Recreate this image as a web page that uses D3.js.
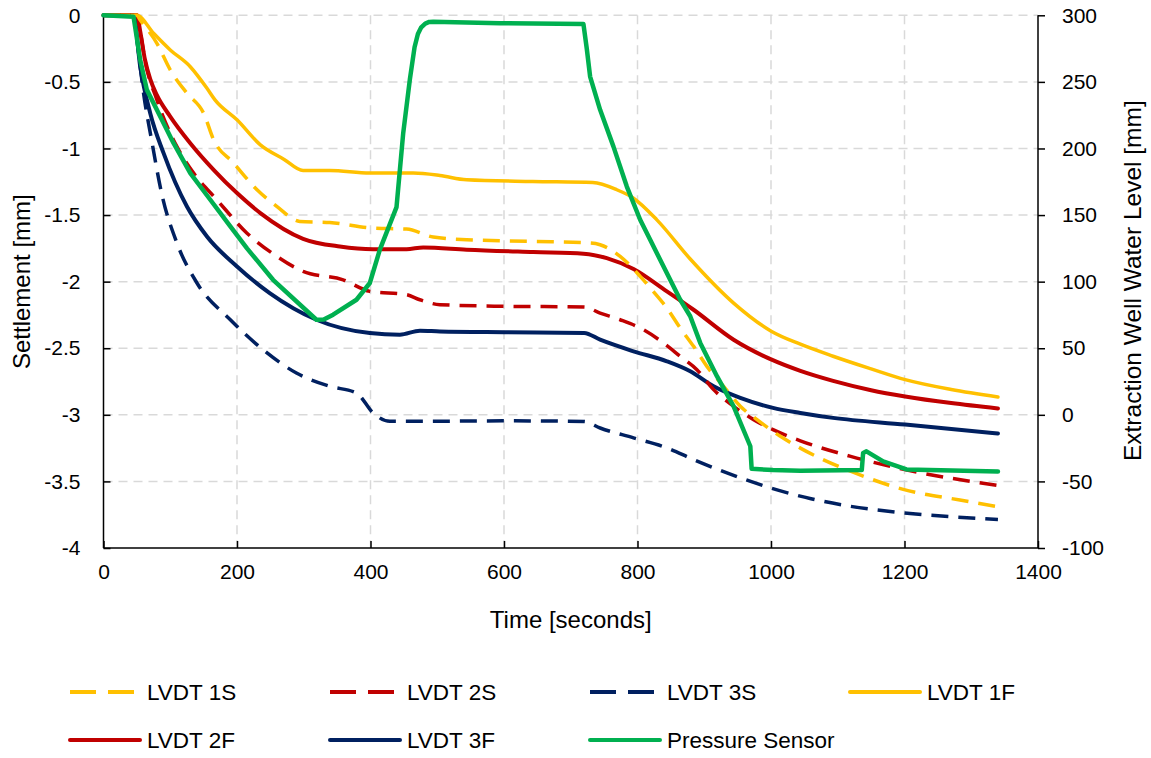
<!DOCTYPE html>
<html><head><meta charset="utf-8">
<script src="https://cdn.jsdelivr.net/npm/d3@7"></script>
<style>
html,body{margin:0;padding:0;background:#fff;}
text{font-family:"Liberation Sans",Arial,sans-serif;fill:#000;}
</style></head>
<body><svg id="chart" width="1151" height="758"></svg>
<script>
// ---- data ----
const xTicks = [0,200,400,600,800,1000,1200,1400];
const yLeftTicks = [0,-0.5,-1,-1.5,-2,-2.5,-3,-3.5,-4];
const yRightTicks = [300,250,200,150,100,50,0,-50,-100];

const time1S = [0,50,55,80,100,125,150,165,195,230,260,294,339,404,454,494,544,644,729,744,774,804,823,844,864,884,904,929,954,979,1014,1044,1138,1198,1283,1340];
const lvdt1S = [0,0,-0.035,-0.21,-0.41,-0.585,-0.735,-0.935,-1.11,-1.31,-1.436,-1.548,-1.556,-1.598,-1.605,-1.665,-1.685,-1.698,-1.71,-1.723,-1.81,-1.96,-2.07,-2.198,-2.348,-2.486,-2.636,-2.786,-2.936,-3.036,-3.161,-3.25,-3.46,-3.56,-3.64,-3.69];

const time2S = [0,50,55,62,80,110,135,170,215,260,299,359,399,454,474,504,600,720,744,774,809,839,864,889,914,944,974,1003,1044,1118,1219,1340];
const lvdt2S = [0,0,-0.12,-0.335,-0.635,-0.986,-1.185,-1.386,-1.636,-1.811,-1.923,-1.986,-2.073,-2.098,-2.136,-2.173,-2.185,-2.19,-2.236,-2.286,-2.361,-2.461,-2.561,-2.661,-2.811,-2.936,-3.036,-3.111,-3.195,-3.31,-3.43,-3.53];

const time3S = [0,45,52,60,72,87,110,140,190,239,289,339,379,404,429,479,600,720,744,794,844,884,934,1000,1060,1118,1198,1270,1340];
const lvdt3S = [0,0,-0.26,-0.585,-0.935,-1.335,-1.71,-2.01,-2.286,-2.511,-2.686,-2.786,-2.836,-2.986,-3.049,-3.049,-3.045,-3.05,-3.099,-3.173,-3.248,-3.336,-3.436,-3.55,-3.63,-3.686,-3.736,-3.765,-3.786];

const time1F = [0,50,75,100,130,155,167,200,235,270,299,339,399,464,504,544,643,733,769,793,829,879,944,1001,1044,1093,1150,1201,1270,1340];
const lvdt1F = [0,0,-0.135,-0.26,-0.386,-0.548,-0.635,-0.785,-0.973,-1.08,-1.166,-1.166,-1.185,-1.185,-1.203,-1.235,-1.248,-1.256,-1.31,-1.37,-1.536,-1.83,-2.161,-2.374,-2.47,-2.56,-2.655,-2.736,-2.81,-2.866];

const time2F = [0,50,55,62,70,80,100,130,165,200,235,299,354,404,454,479,544,644,719,754,794,844,884,944,1001,1044,1093,1150,1201,1270,1340];
const lvdt2F = [0,0,-0.12,-0.33,-0.48,-0.6,-0.76,-0.96,-1.16,-1.335,-1.485,-1.678,-1.736,-1.756,-1.756,-1.743,-1.76,-1.778,-1.79,-1.823,-1.905,-2.073,-2.211,-2.436,-2.586,-2.67,-2.745,-2.815,-2.862,-2.912,-2.953];

const time3F = [0,45,55,70,90,125,155,200,249,319,399,444,474,504,600,720,744,794,844,879,914,954,1003,1044,1093,1201,1340];
const lvdt3F = [0,0,-0.386,-0.735,-1.035,-1.436,-1.661,-1.886,-2.086,-2.286,-2.386,-2.398,-2.368,-2.374,-2.38,-2.385,-2.436,-2.523,-2.598,-2.673,-2.786,-2.873,-2.948,-2.986,-3.023,-3.073,-3.141];

const timeP = [0,45,55,65,85,105,130,160,190,215,254,319,330,344,379,399,414,439,449,459,466,471,476,482,488,494,594,719,724,729,744,764,784,804,819,864,879,894,919,944,969,971,1003,1044,1136,1138,1143,1168,1203,1340];
const pressure = [300,299,266.5,244,224,204,181.5,161.5,141.5,125,101.4,71.4,71.5,75.2,86.4,99,124,156,211.5,252,276,286,291,293.8,295,295.2,294,293.5,275,254,229,201.4,171.4,146.5,131.4,86.4,74,54,29,6.4,-23.6,-40.5,-41.5,-42,-41.5,-28.6,-27.4,-35,-41,-42.5];

const seriesNames = ["LVDT 1S","LVDT 2S","LVDT 3S","LVDT 1F","LVDT 2F","LVDT 3F","Pressure Sensor"];
const seriesColors = ["#FFC000","#C00000","#002060","#FFC000","#C00000","#002060","#00B050"];

// ---- layout ----
const svg = d3.select("#chart");
const m = {l:103.5, r:1038, t:15.3, b:548};
const x = d3.scaleLinear().domain([0,1400]).range([m.l,m.r]);
const yL = d3.scaleLinear().domain([-4,0]).range([m.b,m.t]);
const yR = d3.scaleLinear().domain([-100,300]).range([m.b,m.t]);

// grid
const grid = svg.append("g").attr("stroke","#d9d9d9").attr("stroke-width",1.5).attr("stroke-dasharray","9,6");
yLeftTicks.filter(d=>d>-4).forEach(d=>{
  grid.append("line").attr("x1",m.l).attr("x2",m.r).attr("y1",yL(d)).attr("y2",yL(d));
});
xTicks.filter(d=>d>0 && d<1400).forEach(d=>{
  grid.append("line").attr("x1",x(d)).attr("x2",x(d)).attr("y1",m.t).attr("y2",m.b);
});

// axes
const fmt = d => String(d);
const axB = svg.append("g").attr("transform",`translate(0,${m.b})`)
  .call(d3.axisBottom(x).tickValues(xTicks).tickSize(-7).tickPadding(16).tickFormat(fmt));
const axL = svg.append("g").attr("transform",`translate(${m.l},0)`)
  .call(d3.axisLeft(yL).tickValues(yLeftTicks).tickSize(-7).tickPadding(23).tickFormat(fmt));
const axR = svg.append("g").attr("transform",`translate(${m.r},0)`)
  .call(d3.axisRight(yR).tickValues(yRightTicks).tickSize(7).tickPadding(17).tickFormat(fmt));
[axB,axL,axR].forEach(a=>{
  a.attr("font-size",null);
  a.select(".domain").attr("stroke","#000").attr("stroke-width",1.5);
  a.selectAll(".tick line").attr("stroke","#000").attr("stroke-width",1.5);
  a.selectAll(".tick text").attr("font-size",21).style("font-family","'Liberation Sans',Arial,sans-serif").attr("fill","#000");
});
axB.selectAll(".domain").attr("d",`M${m.l},0H${m.r}`);
axL.selectAll(".domain").attr("d",`M0,${m.t}V${m.b}`);
axR.selectAll(".domain").attr("d",`M0,${m.t}V${m.b}`);

// titles
svg.append("text").attr("x",(m.l+m.r)/2).attr("y",628).attr("text-anchor","middle").attr("font-size",24).text("Time [seconds]");
svg.append("text").attr("transform",`translate(30,${(m.t+m.b)/2}) rotate(-90)`).attr("text-anchor","middle").attr("font-size",24).text("Settlement [mm]");
svg.append("text").attr("transform",`translate(1141,${(m.t+m.b)/2 - 1}) rotate(-90)`).attr("text-anchor","middle").attr("font-size",24.5).text("Extraction Well Water Level [mm]");

// lines
const mk = (ts,vs) => ts.map((t,i)=>[t,vs[i]]);
const lineL = d3.line().x(d=>x(d[0])).y(d=>yL(d[1])).curve(d3.curveMonotoneX);
const lineR = d3.line().x(d=>x(d[0])).y(d=>yR(d[1])).curve(d3.curveLinear);
const plot = svg.append("g").attr("fill","none").attr("stroke-linecap","round").attr("stroke-linejoin","round");
const defs = [
  {d:mk(time3F,lvdt3F), c:seriesColors[5], w:4, dash:null},
  {d:mk(time2F,lvdt2F), c:seriesColors[4], w:4, dash:null},
  {d:mk(time1F,lvdt1F), c:seriesColors[3], w:3.5, dash:null},
  {d:mk(time3S,lvdt3S), c:seriesColors[2], w:3.5, dash:"17,10"},
  {d:mk(time2S,lvdt2S), c:seriesColors[1], w:3.5, dash:"17,10"},
  {d:mk(time1S,lvdt1S), c:seriesColors[0], w:3.5, dash:"17,10"}
];
defs.forEach(s=>{
  plot.append("path").attr("d",lineL(s.d)).attr("stroke",s.c).attr("stroke-width",s.w)
    .attr("stroke-dasharray",s.dash).attr("stroke-linecap",s.dash?"butt":"round");
});
plot.append("path").attr("d",lineR(mk(timeP,pressure))).attr("stroke",seriesColors[6]).attr("stroke-width",4.5);

// legend
const legCols = [70,330,590,850];
const legRows = [692,740];
const leg = svg.append("g");
seriesNames.forEach((n,i)=>{
  const col = legCols[i%4], row = legRows[Math.floor(i/4)];
  const dashed = i<3;
  leg.append("line").attr("x1",col).attr("x2",col+70).attr("y1",row).attr("y2",row)
    .attr("stroke",seriesColors[i]).attr("stroke-width",4)
    .attr("stroke-dasharray",dashed?"26,12":null).attr("stroke-linecap",dashed?"butt":"round");
  leg.append("text").attr("x",col+77).attr("y",row+8).attr("font-size",22.5).text(n);
});
</script></body></html>
